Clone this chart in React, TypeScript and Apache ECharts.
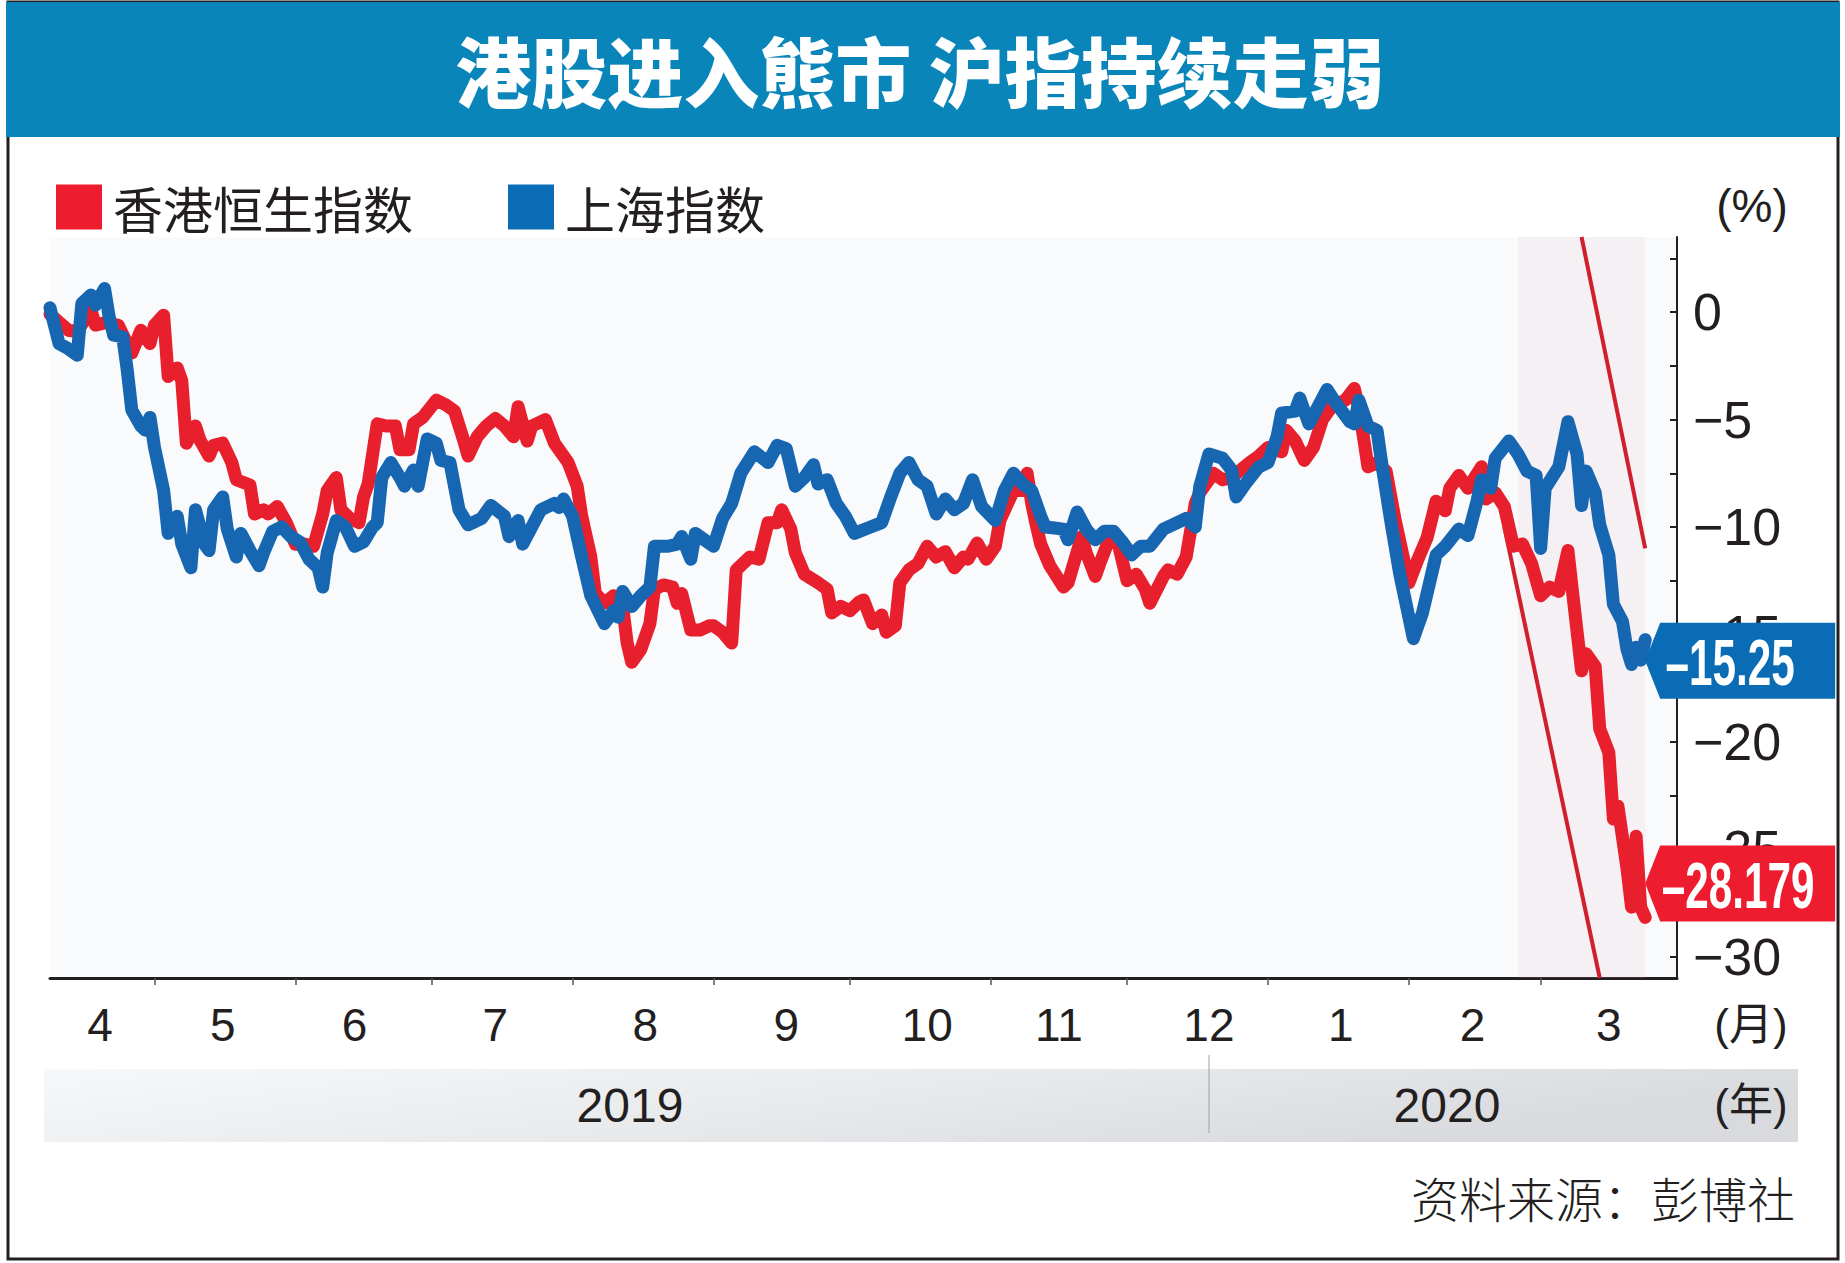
import React, { useEffect, useRef } from 'react';
import * as echarts from 'echarts';

const TITLE = '港股进入熊市 沪指持续走弱';
const NAME_HSI = '香港恒生指数';
const NAME_SH = '上海指数';
const SOURCE = '资料来源：彭博社';
const UNIT_Y = '(%)';
const UNIT_MONTH = '(月)';
const UNIT_YEAR = '(年)';
const YEARS = ['2019', '2020'];
const END_LABELS = ['–28.179', '–15.25'];

const X_START = '2019-04-08';
const X_END = '2020-03-31';
const Y_MIN = -31;
const Y_MAX = 3.5;
const Y_LABELS = [0, -5, -10, -15, -20, -25, -30];
const Y_TICKS = [2.5, 0, -2.5, -5, -7.5, -10, -12.5, -15, -17.5, -20, -22.5, -25, -27.5, -30];
const MONTH_TICKS = ['2019-05-01', '2019-06-01', '2019-07-01', '2019-08-01', '2019-09-01', '2019-10-01', '2019-11-01', '2019-12-01', '2020-01-01', '2020-02-01', '2020-03-01'];
const MONTH_LABEL_AT = ['2019-04-19', '2019-05-16', '2019-06-14', '2019-07-15', '2019-08-17', '2019-09-17', '2019-10-18', '2019-11-16', '2019-12-19', '2020-01-17', '2020-02-15', '2020-03-16'];

const BEAR_ZONE = ['2020-02-25', '2020-03-24'];
const TREND_UPPER: [string, number][] = [['2020-03-10', 3.5], ['2020-03-24', -11.0]];
const TREND_LOWER: [string, number][] = [['2020-02-22', -10.0], ['2020-03-14', -31]];

const HSI: [string, number][] = [
  ['2019-04-08', -0.1], ['2019-04-12', -0.84], ['2019-04-14', -0.9], ['2019-04-17', 0.1], ['2019-04-18', -0.6], ['2019-04-20', -0.5], ['2019-04-23', -0.6], ['2019-04-26', -1.9], ['2019-04-28', -0.84], ['2019-04-30', -1.46],
  ['2019-05-01', -0.6], ['2019-05-03', -0.14], ['2019-05-04', -3.0], ['2019-05-06', -2.6], ['2019-05-07', -3.2], ['2019-05-08', -6.1], ['2019-05-10', -5.3], ['2019-05-11', -5.95], ['2019-05-13', -6.7], ['2019-05-14', -6.2], ['2019-05-16', -6.1], ['2019-05-18', -7.0], ['2019-05-19', -7.8], ['2019-05-22', -8.05], ['2019-05-23', -9.4], ['2019-05-25', -9.2], ['2019-05-26', -9.4], ['2019-05-28', -9.05], ['2019-05-30', -9.8],
  ['2019-06-01', -10.8], ['2019-06-03', -10.8], ['2019-06-05', -10.9], ['2019-06-07', -9.4], ['2019-06-08', -8.3], ['2019-06-10', -7.7], ['2019-06-11', -9.2], ['2019-06-13', -9.6], ['2019-06-15', -9.8], ['2019-06-16', -8.6], ['2019-06-17', -8.0], ['2019-06-19', -5.2], ['2019-06-21', -5.3], ['2019-06-23', -5.3], ['2019-06-24', -6.4], ['2019-06-26', -6.4], ['2019-06-27', -5.2], ['2019-06-29', -4.9],
  ['2019-07-02', -4.1], ['2019-07-04', -4.3], ['2019-07-06', -4.6], ['2019-07-08', -5.95], ['2019-07-09', -6.7], ['2019-07-11', -5.8], ['2019-07-13', -5.3], ['2019-07-15', -4.95], ['2019-07-17', -5.3], ['2019-07-19', -5.8], ['2019-07-20', -4.4], ['2019-07-22', -6.0], ['2019-07-23', -5.3], ['2019-07-26', -5.0], ['2019-07-28', -6.1], ['2019-07-30', -6.7], ['2019-07-31', -7.0],
  ['2019-08-02', -8.1], ['2019-08-03', -9.5], ['2019-08-05', -11.4], ['2019-08-06', -13.1], ['2019-08-08', -13.55], ['2019-08-10', -13.2], ['2019-08-12', -13.7], ['2019-08-13', -15.4], ['2019-08-14', -16.3], ['2019-08-16', -15.7], ['2019-08-18', -14.5], ['2019-08-19', -12.9], ['2019-08-21', -12.7], ['2019-08-23', -12.8], ['2019-08-24', -13.55], ['2019-08-25', -13.1], ['2019-08-27', -14.8], ['2019-08-29', -14.8], ['2019-08-31', -14.6],
  ['2019-09-01', -14.6], ['2019-09-03', -14.9], ['2019-09-05', -15.4], ['2019-09-06', -12.0], ['2019-09-09', -11.4], ['2019-09-11', -11.5], ['2019-09-13', -9.8], ['2019-09-15', -9.8], ['2019-09-16', -9.2], ['2019-09-18', -10.1], ['2019-09-19', -11.2], ['2019-09-21', -12.2], ['2019-09-24', -12.6], ['2019-09-26', -12.9], ['2019-09-27', -14.0], ['2019-09-29', -13.7],
  ['2019-10-01', -13.9], ['2019-10-03', -13.5], ['2019-10-04', -13.4], ['2019-10-06', -14.5], ['2019-10-08', -14.1], ['2019-10-09', -14.9], ['2019-10-11', -14.6], ['2019-10-12', -12.6], ['2019-10-14', -12.0], ['2019-10-16', -11.7], ['2019-10-18', -10.9], ['2019-10-20', -11.4], ['2019-10-22', -11.15], ['2019-10-24', -11.9], ['2019-10-26', -11.4], ['2019-10-27', -11.5], ['2019-10-29', -10.75], ['2019-10-31', -11.5],
  ['2019-11-02', -10.9], ['2019-11-03', -9.7], ['2019-11-06', -8.3], ['2019-11-08', -8.3], ['2019-11-09', -7.5], ['2019-11-10', -8.9], ['2019-11-11', -9.9], ['2019-11-12', -10.8], ['2019-11-14', -11.8], ['2019-11-17', -12.8], ['2019-11-18', -12.6], ['2019-11-21', -10.45], ['2019-11-22', -11.2], ['2019-11-24', -12.3], ['2019-11-25', -11.7], ['2019-11-27', -10.6], ['2019-11-29', -10.75],
  ['2019-12-01', -12.5], ['2019-12-03', -12.2], ['2019-12-05', -12.9], ['2019-12-06', -13.55], ['2019-12-09', -12.3], ['2019-12-10', -12.0], ['2019-12-12', -12.2], ['2019-12-14', -11.4], ['2019-12-16', -8.9], ['2019-12-17', -8.4], ['2019-12-20', -7.5], ['2019-12-22', -7.8], ['2019-12-24', -7.7], ['2019-12-26', -7.35], ['2019-12-28', -7.0], ['2019-12-30', -6.7],
  ['2020-01-01', -6.3], ['2020-01-04', -6.5], ['2020-01-05', -5.5], ['2020-01-07', -6.0], ['2020-01-09', -6.9], ['2020-01-11', -6.3], ['2020-01-13', -5.0], ['2020-01-15', -4.4], ['2020-01-18', -4.1], ['2020-01-20', -3.55], ['2020-01-21', -4.5], ['2020-01-22', -5.8], ['2020-01-23', -7.2], ['2020-01-25', -7.0], ['2020-01-27', -7.4], ['2020-01-29', -9.7],
  ['2020-02-01', -12.6], ['2020-02-03', -11.5], ['2020-02-05', -10.5], ['2020-02-07', -8.8], ['2020-02-09', -9.25], ['2020-02-10', -8.2], ['2020-02-12', -7.6], ['2020-02-14', -8.2], ['2020-02-17', -7.2], ['2020-02-18', -8.7], ['2020-02-20', -8.4], ['2020-02-22', -9.05], ['2020-02-24', -10.9], ['2020-02-26', -10.8], ['2020-02-28', -11.7],
  ['2020-03-01', -13.2], ['2020-03-03', -12.8], ['2020-03-05', -13.0], ['2020-03-07', -11.1], ['2020-03-08', -13.0], ['2020-03-10', -16.7], ['2020-03-11', -15.9], ['2020-03-13', -16.5], ['2020-03-14', -19.4], ['2020-03-16', -20.5], ['2020-03-17', -23.6], ['2020-03-18', -23.0], ['2020-03-20', -25.9], ['2020-03-21', -27.7], ['2020-03-22', -24.4], ['2020-03-23', -27.7], ['2020-03-24', -28.179],
];

const SHCOMP: [string, number][] = [
  ['2019-04-08', 0.2], ['2019-04-10', -1.46], ['2019-04-12', -1.7], ['2019-04-14', -2.0], ['2019-04-15', 0.4], ['2019-04-17', 0.8], ['2019-04-18', 0.33], ['2019-04-20', 1.1], ['2019-04-21', -0.2], ['2019-04-22', -1.07], ['2019-04-24', -1.15], ['2019-04-25', -2.7], ['2019-04-26', -4.56], ['2019-04-28', -5.3], ['2019-04-29', -5.5], ['2019-04-30', -4.9],
  ['2019-05-01', -6.3], ['2019-05-03', -8.3], ['2019-05-04', -10.3], ['2019-05-06', -9.5], ['2019-05-07', -10.8], ['2019-05-09', -11.9], ['2019-05-10', -9.2], ['2019-05-12', -10.8], ['2019-05-13', -11.1], ['2019-05-14', -9.2], ['2019-05-16', -8.6], ['2019-05-17', -10.1], ['2019-05-19', -11.4], ['2019-05-20', -10.3], ['2019-05-22', -11.1], ['2019-05-24', -11.8], ['2019-05-25', -11.2], ['2019-05-27', -10.2], ['2019-05-29', -10.0], ['2019-05-31', -10.45],
  ['2019-06-02', -10.7], ['2019-06-04', -11.5], ['2019-06-06', -11.9], ['2019-06-07', -12.8], ['2019-06-08', -11.2], ['2019-06-10', -9.7], ['2019-06-12', -10.0], ['2019-06-14', -10.9], ['2019-06-16', -10.7], ['2019-06-18', -10.0], ['2019-06-19', -9.8], ['2019-06-20', -7.7], ['2019-06-22', -7.0], ['2019-06-24', -7.7], ['2019-06-25', -8.1], ['2019-06-27', -7.35], ['2019-06-28', -8.1], ['2019-06-30', -5.9],
  ['2019-07-02', -6.1], ['2019-07-03', -6.9], ['2019-07-05', -7.0], ['2019-07-07', -9.2], ['2019-07-09', -9.9], ['2019-07-12', -9.6], ['2019-07-14', -9.0], ['2019-07-17', -9.5], ['2019-07-18', -10.45], ['2019-07-20', -9.7], ['2019-07-21', -10.8], ['2019-07-23', -10.0], ['2019-07-25', -9.2], ['2019-07-28', -8.9], ['2019-07-29', -9.1], ['2019-07-30', -8.7],
  ['2019-08-01', -9.5], ['2019-08-03', -11.4], ['2019-08-05', -13.2], ['2019-08-08', -14.5], ['2019-08-10', -13.9], ['2019-08-11', -14.2], ['2019-08-12', -13.0], ['2019-08-14', -13.7], ['2019-08-16', -13.2], ['2019-08-18', -12.8], ['2019-08-19', -10.9], ['2019-08-22', -10.9], ['2019-08-24', -10.8], ['2019-08-25', -10.45], ['2019-08-27', -11.5], ['2019-08-28', -10.3], ['2019-08-30', -10.6],
  ['2019-09-01', -10.9], ['2019-09-03', -9.6], ['2019-09-05', -8.9], ['2019-09-07', -7.5], ['2019-09-10', -6.5], ['2019-09-13', -7.0], ['2019-09-15', -6.2], ['2019-09-17', -6.35], ['2019-09-19', -8.1], ['2019-09-21', -7.7], ['2019-09-23', -7.1], ['2019-09-24', -8.0], ['2019-09-26', -7.8], ['2019-09-28', -8.9], ['2019-09-30', -9.5],
  ['2019-10-02', -10.3], ['2019-10-05', -10.05], ['2019-10-08', -9.8], ['2019-10-10', -8.6], ['2019-10-12', -7.5], ['2019-10-14', -7.0], ['2019-10-16', -7.8], ['2019-10-18', -8.1], ['2019-10-20', -9.4], ['2019-10-22', -8.7], ['2019-10-24', -9.2], ['2019-10-26', -8.9], ['2019-10-28', -7.8], ['2019-10-30', -9.05],
  ['2019-11-02', -9.7], ['2019-11-04', -8.3], ['2019-11-06', -7.5], ['2019-11-08', -8.0], ['2019-11-10', -8.3], ['2019-11-12', -9.5], ['2019-11-13', -10.0], ['2019-11-15', -10.05], ['2019-11-17', -10.1], ['2019-11-18', -10.6], ['2019-11-20', -9.3], ['2019-11-22', -10.1], ['2019-11-24', -10.6], ['2019-11-26', -10.2], ['2019-11-28', -10.2], ['2019-11-30', -10.7],
  ['2019-12-02', -11.3], ['2019-12-04', -10.9], ['2019-12-06', -10.9], ['2019-12-09', -10.1], ['2019-12-11', -9.9], ['2019-12-14', -9.6], ['2019-12-16', -10.0], ['2019-12-17', -8.1], ['2019-12-19', -6.6], ['2019-12-22', -6.8], ['2019-12-24', -7.35], ['2019-12-25', -8.6], ['2019-12-27', -8.0], ['2019-12-30', -7.2],
  ['2020-01-01', -7.0], ['2020-01-03', -5.8], ['2020-01-04', -4.7], ['2020-01-07', -4.6], ['2020-01-08', -4.0], ['2020-01-10', -5.2], ['2020-01-12', -4.4], ['2020-01-14', -3.6], ['2020-01-16', -4.25], ['2020-01-19', -5.1], ['2020-01-20', -5.2], ['2020-01-21', -4.1], ['2020-01-23', -5.3], ['2020-01-25', -5.5], ['2020-01-26', -7.0], ['2020-01-28', -9.7], ['2020-01-30', -12.2],
  ['2020-02-01', -14.2], ['2020-02-02', -15.2], ['2020-02-04', -14.0], ['2020-02-06', -12.2], ['2020-02-07', -11.3], ['2020-02-09', -10.9], ['2020-02-12', -10.1], ['2020-02-14', -10.4], ['2020-02-16', -8.8], ['2020-02-17', -7.8], ['2020-02-19', -8.2], ['2020-02-20', -6.8], ['2020-02-23', -6.0], ['2020-02-25', -6.6], ['2020-02-27', -7.4], ['2020-02-29', -7.6],
  ['2020-03-01', -11.0], ['2020-03-02', -8.2], ['2020-03-05', -7.2], ['2020-03-07', -5.1], ['2020-03-09', -6.6], ['2020-03-10', -9.0], ['2020-03-11', -7.4], ['2020-03-13', -8.4], ['2020-03-14', -9.9], ['2020-03-16', -11.3], ['2020-03-17', -13.6], ['2020-03-19', -14.4], ['2020-03-20', -15.7], ['2020-03-21', -16.4], ['2020-03-22', -15.6], ['2020-03-23', -16.2], ['2020-03-24', -15.25],
];

const ts = (s: string): number => {
  const [y, m, d] = s.split('-').map(Number);
  return new Date(y, m - 1, d).getTime();
};
const toPoints = (rows: [string, number][]) => rows.map(([d, v]) => [ts(d), v]);

const INK = '#231f20';
const RED = '#e8202e';
const RED_KEY = '#ed1c2e';
const BLUE = '#1766b2';
const BLUE_KEY = '#0a6cb5';
const LATIN = '"Liberation Sans", Arial, sans-serif';
const CJK = '"Noto Sans CJK SC", sans-serif';
const BADGE_W = 190;
const BADGE_H = 76;
const BADGE_PATH = 'path://M0,38L15,0L190,0L190,76L15,76Z';
const BADGE_SHIFT = [[BADGE_W / 2, -34], [BADGE_W / 2, 21]];
const BADGE_TEXT_DX = [-2, -10];

export default function App() {
  const ref = useRef<HTMLDivElement>(null);

  useEffect(() => {
    document.body.style.margin = '0';
    if (!ref.current) return;
    const chart = echarts.init(ref.current, undefined, { renderer: 'svg' });

    const lastH = HSI[HSI.length - 1];
    const lastS = SHCOMP[SHCOMP.length - 1];

    const legendBase = {
      icon: 'rect',
      itemWidth: 46,
      itemHeight: 45,
      padding: 0,
      selectedMode: false,
      top: 182,
      textStyle: { fontSize: 50, color: INK, fontFamily: CJK, padding: [0, 0, 0, 6] },
    };

    const badge = (color: string, shift: number[], last: [string, number]) => ({
      silent: true,
      symbol: BADGE_PATH,
      symbolSize: [BADGE_W, BADGE_H],
      symbolOffset: shift,
      itemStyle: { color },
      label: { show: false },
      data: [{ coord: [ts(last[0]), last[1]] }],
    });

    const baseGraphic: any[] = [
      {
        id: 'frame',
        type: 'rect',
        shape: { x: 8, y: 2, width: 1830, height: 1257 },
        style: { fill: 'none', stroke: INK, lineWidth: 3 },
        silent: true,
      },
      {
        id: 'banner',
        type: 'rect',
        shape: { x: 6, y: 2, width: 1834, height: 135 },
        style: { fill: '#0a85b9' },
        silent: true,
      },
      {
        id: 'title',
        type: 'text',
        x: 920,
        y: 69,
        style: {
          text: TITLE,
          fill: '#ffffff',
          fontSize: 76,
          fontWeight: 900,
          fontFamily: CJK,
          align: 'center',
          verticalAlign: 'middle',
        },
      },
      {
        id: 'unitY',
        type: 'text',
        x: 1752,
        y: 206,
        style: { text: UNIT_Y, fill: INK, fontSize: 46, fontFamily: LATIN, align: 'center', verticalAlign: 'middle' },
      },
      {
        id: 'unitM',
        type: 'text',
        x: 1751,
        y: 1024,
        style: { text: UNIT_MONTH, fill: INK, fontSize: 44, fontFamily: LATIN + ', ' + CJK, align: 'center', verticalAlign: 'middle' },
      },
      {
        id: 'band',
        type: 'rect',
        shape: { x: 44, y: 1069, width: 1754, height: 73 },
        style: {
          fill: new echarts.graphic.LinearGradient(0, 0, 1, 0.3, [
            { offset: 0, color: '#f7f8f9' },
            { offset: 0.55, color: '#e8e9eb' },
            { offset: 1, color: '#d9dadd' },
          ]),
        },
        silent: true,
      },
      {
        id: 'divider',
        type: 'line',
        shape: { x1: 1209, y1: 1055, x2: 1209, y2: 1133 },
        style: { stroke: '#a0a0a0', lineWidth: 1 },
        silent: true,
      },
      {
        id: 'y2019',
        type: 'text',
        x: 630,
        y: 1105,
        style: { text: YEARS[0], fill: INK, fontSize: 48, fontFamily: LATIN, align: 'center', verticalAlign: 'middle' },
      },
      {
        id: 'y2020',
        type: 'text',
        x: 1447,
        y: 1105,
        style: { text: YEARS[1], fill: INK, fontSize: 48, fontFamily: LATIN, align: 'center', verticalAlign: 'middle' },
      },
      {
        id: 'unitYear',
        type: 'text',
        x: 1751,
        y: 1104,
        style: { text: UNIT_YEAR, fill: INK, fontSize: 44, fontFamily: LATIN + ', ' + CJK, align: 'center', verticalAlign: 'middle' },
      },
      {
        id: 'source',
        type: 'text',
        x: 1795,
        y: 1197,
        style: { text: SOURCE, fill: INK, fontSize: 48, fontWeight: 300, fontFamily: CJK, align: 'right', verticalAlign: 'middle' },
      },
    ];

    const option: any = {
      animation: false,
      backgroundColor: '#ffffff',
      legend: [
        { ...legendBase, left: 56, data: [NAME_HSI] },
        { ...legendBase, left: 508, data: [NAME_SH] },
      ],
      grid: {
        left: 50,
        right: 168,
        top: 237,
        bottom: 285,
        show: true,
        backgroundColor: '#f9fafb',
        borderWidth: 0,
      },
      xAxis: {
        type: 'value',
        min: ts(X_START),
        max: ts(X_END),
        splitLine: { show: false },
        axisLine: { show: true, onZero: false, lineStyle: { color: INK, width: 3 } },
        axisTick: {
          show: true,
          length: 7,
          customValues: MONTH_TICKS.map(ts),
          lineStyle: { color: '#555555', width: 1.5 },
        },
        axisLabel: {
          customValues: MONTH_LABEL_AT.map(ts),
          formatter: (v: number) => String(new Date(v).getMonth() + 1),
          fontSize: 46,
          color: INK,
          fontFamily: LATIN,
          margin: 24,
        },
      },
      yAxis: {
        type: 'value',
        position: 'right',
        min: Y_MIN,
        max: Y_MAX,
        splitLine: { show: false },
        axisLine: { show: true, lineStyle: { color: INK, width: 2 } },
        axisTick: {
          show: true,
          inside: true,
          length: 7,
          customValues: Y_TICKS,
          lineStyle: { color: INK, width: 2 },
        },
        axisLabel: {
          customValues: Y_LABELS,
          formatter: (v: number) => (v === 0 ? '0' : '\u2212' + Math.abs(v)),
          fontSize: 52,
          color: INK,
          fontFamily: LATIN,
          margin: 16,
        },
      },
      series: [
        {
          type: 'line',
          data: toPoints(TREND_UPPER),
          symbol: 'none',
          silent: true,
          clip: true,
          z: 2,
          lineStyle: { color: '#d01f2d', width: 4 },
          markArea: {
            silent: true,
            itemStyle: { color: 'rgba(226, 180, 200, 0.13)' },
            data: [[{ xAxis: ts(BEAR_ZONE[0]) }, { xAxis: ts(BEAR_ZONE[1]) }]],
          },
        },
        {
          type: 'line',
          data: toPoints(TREND_LOWER),
          symbol: 'none',
          silent: true,
          clip: true,
          z: 2,
          lineStyle: { color: '#d01f2d', width: 4 },
        },
        {
          name: NAME_HSI,
          type: 'line',
          data: toPoints(HSI),
          symbol: 'none',
          z: 3,
          itemStyle: { color: RED_KEY },
          lineStyle: { color: RED, width: 13, join: 'round', cap: 'round' },
          markPoint: badge(RED_KEY, BADGE_SHIFT[0], lastH),
        },
        {
          name: NAME_SH,
          type: 'line',
          data: toPoints(SHCOMP),
          symbol: 'none',
          z: 4,
          itemStyle: { color: BLUE_KEY },
          lineStyle: { color: BLUE, width: 13, join: 'round', cap: 'round' },
          markPoint: badge(BLUE_KEY, BADGE_SHIFT[1], lastS),
        },
      ],
      graphic: baseGraphic,
    };

    chart.setOption(option);

    // Badge texts: positioned from the chart's own scale at each series' last point.
    const ends: [string, number][] = [lastH, lastS];
    const badgeTexts = ends.map((last, i) => {
      const p = chart.convertToPixel({ gridIndex: 0 }, [ts(last[0]), last[1]]) as number[];
      return {
        id: 'badgeText' + i,
        type: 'text',
        x: p[0] + BADGE_SHIFT[i][0] + BADGE_TEXT_DX[i],
        y: p[1] + BADGE_SHIFT[i][1] + 2,
        scaleX: 0.66,
        z: 100,
        style: {
          text: END_LABELS[i],
          fill: '#ffffff',
          fontSize: 64,
          fontWeight: 'bold',
          fontFamily: LATIN,
          align: 'center',
          verticalAlign: 'middle',
        },
      };
    });
    chart.setOption({ graphic: [...baseGraphic, ...badgeTexts] });

    return () => {
      chart.dispose();
    };
  }, []);

  return <div ref={ref} style={{ width: 1845, height: 1263 }} />;
}
